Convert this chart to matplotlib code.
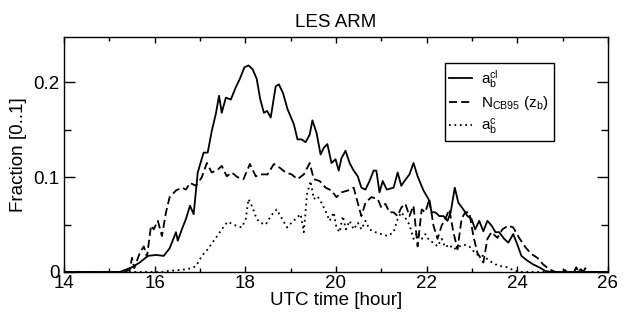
import matplotlib
matplotlib.use("Agg")
import matplotlib.pyplot as plt
from matplotlib.ticker import MultipleLocator

plt.rcParams['font.family'] = ['Liberation Sans', 'DejaVu Sans']
plt.rcParams['mathtext.fontset'] = 'custom'
plt.rcParams['mathtext.rm'] = 'Liberation Sans'
plt.rcParams['mathtext.it'] = 'Liberation Sans'

# a_b^cl (solid)
t_cl = [14.0, 15.23, 15.50, 15.67, 15.85, 16.03, 16.20, 16.33, 16.47, 16.51, 16.60, 16.69,
        16.78, 16.86, 16.95, 17.08, 17.17, 17.26, 17.35, 17.42, 17.48, 17.57, 17.68, 17.79,
        17.88, 17.98, 18.07, 18.16, 18.25, 18.33, 18.41, 18.48, 18.56, 18.67, 18.74, 18.83,
        18.93, 19.07, 19.15, 19.24, 19.33, 19.42, 19.48, 19.57, 19.66, 19.73, 19.81, 19.90,
        19.99, 20.06, 20.12, 20.21, 20.30, 20.39, 20.48, 20.56, 20.65, 20.74, 20.83, 20.89,
        20.96, 21.03, 21.12, 21.27, 21.36, 21.44, 21.51, 21.62, 21.71, 21.80, 21.93, 22.04,
        22.11, 22.19, 22.28, 22.37, 22.46, 22.53, 22.62, 22.70, 22.81, 22.90, 22.99, 23.07,
        23.16, 23.25, 23.34, 23.43, 23.52, 23.60, 23.71, 23.80, 23.91, 24.00, 24.09, 24.22,
        24.35, 24.48, 24.62, 24.75, 25.0, 25.05, 25.1, 25.35, 25.4, 25.45, 26.0]
v_cl = [0.0, 0.0, 0.005, 0.010, 0.017, 0.018, 0.017, 0.025, 0.042, 0.033, 0.045, 0.056,
        0.070, 0.061, 0.105, 0.126, 0.126, 0.149, 0.167, 0.186, 0.168, 0.184, 0.182, 0.195,
        0.204, 0.216, 0.218, 0.214, 0.204, 0.182, 0.168, 0.170, 0.163, 0.196, 0.198, 0.189,
        0.172, 0.156, 0.140, 0.140, 0.137, 0.145, 0.160, 0.147, 0.124, 0.131, 0.135, 0.115,
        0.119, 0.107, 0.120, 0.128, 0.115, 0.107, 0.101, 0.089, 0.087, 0.096, 0.107, 0.107,
        0.084, 0.096, 0.087, 0.089, 0.105, 0.091, 0.096, 0.103, 0.115, 0.101, 0.086, 0.077,
        0.063, 0.063, 0.059, 0.059, 0.054, 0.063, 0.089, 0.073, 0.066, 0.059, 0.056, 0.045,
        0.054, 0.043, 0.054, 0.049, 0.042, 0.042, 0.035, 0.031, 0.040, 0.029, 0.017, 0.012,
        0.008, 0.005, 0.001, 0.0, 0.0, 0.002, 0.0, 0.0, 0.003, 0.0, 0.0]

# N_CB95(z_b) (dashed)
t_cb = [14.0, 15.30, 15.45, 15.50, 15.55, 15.67, 15.76, 15.83, 15.92, 15.98, 16.07, 16.16,
        16.25, 16.33, 16.47, 16.60, 16.69, 16.78, 16.91, 17.04, 17.15, 17.26, 17.39, 17.48,
        17.59, 17.70, 17.83, 17.96, 18.10, 18.23, 18.36, 18.49, 18.63, 18.76, 18.89, 19.02,
        19.15, 19.29, 19.42, 19.51, 19.64, 19.77, 19.90, 20.01, 20.12, 20.26, 20.39, 20.48,
        20.56, 20.65, 20.78, 20.92, 21.00, 21.09, 21.18, 21.27, 21.36, 21.44, 21.53, 21.62,
        21.71, 21.80, 21.89, 21.97, 22.06, 22.15, 22.24, 22.33, 22.41, 22.50, 22.59, 22.68,
        22.77, 22.85, 22.94, 23.03, 23.12, 23.25, 23.34, 23.43, 23.56, 23.67, 23.80, 23.91,
        24.04, 24.18, 24.31, 24.44, 24.57, 24.70, 24.84, 25.25, 25.30, 25.35, 25.45, 25.50,
        25.55, 26.0]
v_cb = [0.0, 0.0, 0.002, 0.015, 0.004, 0.020, 0.027, 0.016, 0.049, 0.045, 0.054, 0.038,
        0.063, 0.079, 0.086, 0.089, 0.087, 0.094, 0.091, 0.100, 0.115, 0.105, 0.108, 0.112,
        0.101, 0.105, 0.100, 0.098, 0.114, 0.101, 0.103, 0.103, 0.114, 0.110, 0.105, 0.103,
        0.098, 0.103, 0.115, 0.098, 0.096, 0.089, 0.086, 0.079, 0.084, 0.086, 0.089, 0.073,
        0.059, 0.073, 0.079, 0.077, 0.068, 0.072, 0.063, 0.063, 0.059, 0.068, 0.072, 0.059,
        0.070, 0.027, 0.066, 0.063, 0.077, 0.049, 0.035, 0.049, 0.056, 0.066, 0.042, 0.024,
        0.056, 0.063, 0.063, 0.038, 0.020, 0.010, 0.035, 0.042, 0.036, 0.045, 0.049, 0.047,
        0.036, 0.026, 0.019, 0.015, 0.008, 0.003, 0.0, 0.0, 0.005, 0.0, 0.0, 0.004,
        0.0, 0.0]

# a_b^c (dotted)
t_c = [14.0, 16.20, 16.29, 16.73, 16.91, 17.04, 17.17, 17.35, 17.48, 17.61, 17.79, 17.92,
       18.01, 18.07, 18.16, 18.25, 18.33, 18.45, 18.56, 18.69, 18.80, 18.92, 19.02, 19.13,
       19.22, 19.29, 19.36, 19.44, 19.51, 19.59, 19.68, 19.77, 19.86, 19.95, 20.01, 20.08,
       20.15, 20.22, 20.30, 20.39, 20.48, 20.56, 20.65, 20.74, 20.87, 21.00, 21.14, 21.27,
       21.36, 21.44, 21.53, 21.62, 21.71, 21.80, 21.89, 21.97, 22.06, 22.15, 22.24, 22.33,
       22.41, 22.50, 22.59, 22.68, 22.81, 22.94, 23.07, 23.16, 23.25, 23.38, 23.52, 23.65,
       23.78, 23.91, 24.04, 26.0]
v_c = [0.0, 0.0, 0.001, 0.003, 0.006, 0.017, 0.024, 0.036, 0.045, 0.053, 0.049, 0.047,
       0.056, 0.077, 0.068, 0.056, 0.052, 0.050, 0.059, 0.066, 0.057, 0.047, 0.052, 0.057,
       0.061, 0.042, 0.082, 0.096, 0.077, 0.080, 0.073, 0.064, 0.054, 0.063, 0.047, 0.042,
       0.059, 0.045, 0.054, 0.045, 0.052, 0.045, 0.054, 0.045, 0.042, 0.040, 0.038, 0.042,
       0.056, 0.063, 0.057, 0.050, 0.035, 0.042, 0.035, 0.040, 0.033, 0.031, 0.027, 0.035,
       0.026, 0.029, 0.024, 0.026, 0.029, 0.027, 0.020, 0.017, 0.017, 0.012, 0.008, 0.006,
       0.005, 0.002, 0.0, 0.0]

labels = [r'$\mathrm{a_b^{cl}}$', r'N$_{\mathrm{CB95}}$ (z$_\mathrm{b}$)', r'$\mathrm{a_b^{c}}$']

fig = plt.figure(figsize=(6.29, 3.14), dpi=100)
ax = fig.add_axes([64 / 629, 42 / 314, 544 / 629, 235 / 314])

ax.plot(t_cl, v_cl, color='black', lw=1.3, ls='-', label=labels[0])
ax.plot(t_cb, v_cb, color='black', lw=1.3, ls=(0, (4.5, 2.2)), label=labels[1])
ax.plot(t_c, v_c, color='black', lw=1.3, ls=(0, (1, 2.0)), label=labels[2])

ax.set_xlim(14, 26)
ax.set_ylim(0, 0.248)
ax.xaxis.set_major_locator(MultipleLocator(2))
ax.xaxis.set_minor_locator(MultipleLocator(1))
ax.yaxis.set_minor_locator(MultipleLocator(0.05))
ax.set_yticks([0, 0.1, 0.2])
ax.set_yticklabels(['0', '0.1', '0.2'])
ax.tick_params(which='both', direction='in', top=True, right=True, labelsize=13.5)
ax.tick_params(axis='x', which='major', length=4.5, width=1, pad=2)
ax.tick_params(axis='x', which='minor', length=3, width=1)
ax.tick_params(axis='y', which='major', length=8, width=1, pad=3)
ax.tick_params(axis='y', which='minor', length=5, width=1)
for s in ax.spines.values():
    s.set_linewidth(1.0)

ax.set_xlabel('UTC time [hour]', fontsize=13.5, labelpad=0)
ax.set_ylabel('Fraction [0..1]', fontsize=13.5, labelpad=5)
ax.set_title('LES ARM', fontsize=13.5, pad=7)

leg = ax.legend(loc='upper left', bbox_to_anchor=(0.700, 0.889), fontsize=11,
                frameon=True, fancybox=False, edgecolor='black', framealpha=1,
                handlelength=1.5, handletextpad=0.6, borderpad=0.3, labelspacing=0.3,
                borderaxespad=0)
leg.get_frame().set_linewidth(1.0)

fig.savefig('out.png', dpi=100)
